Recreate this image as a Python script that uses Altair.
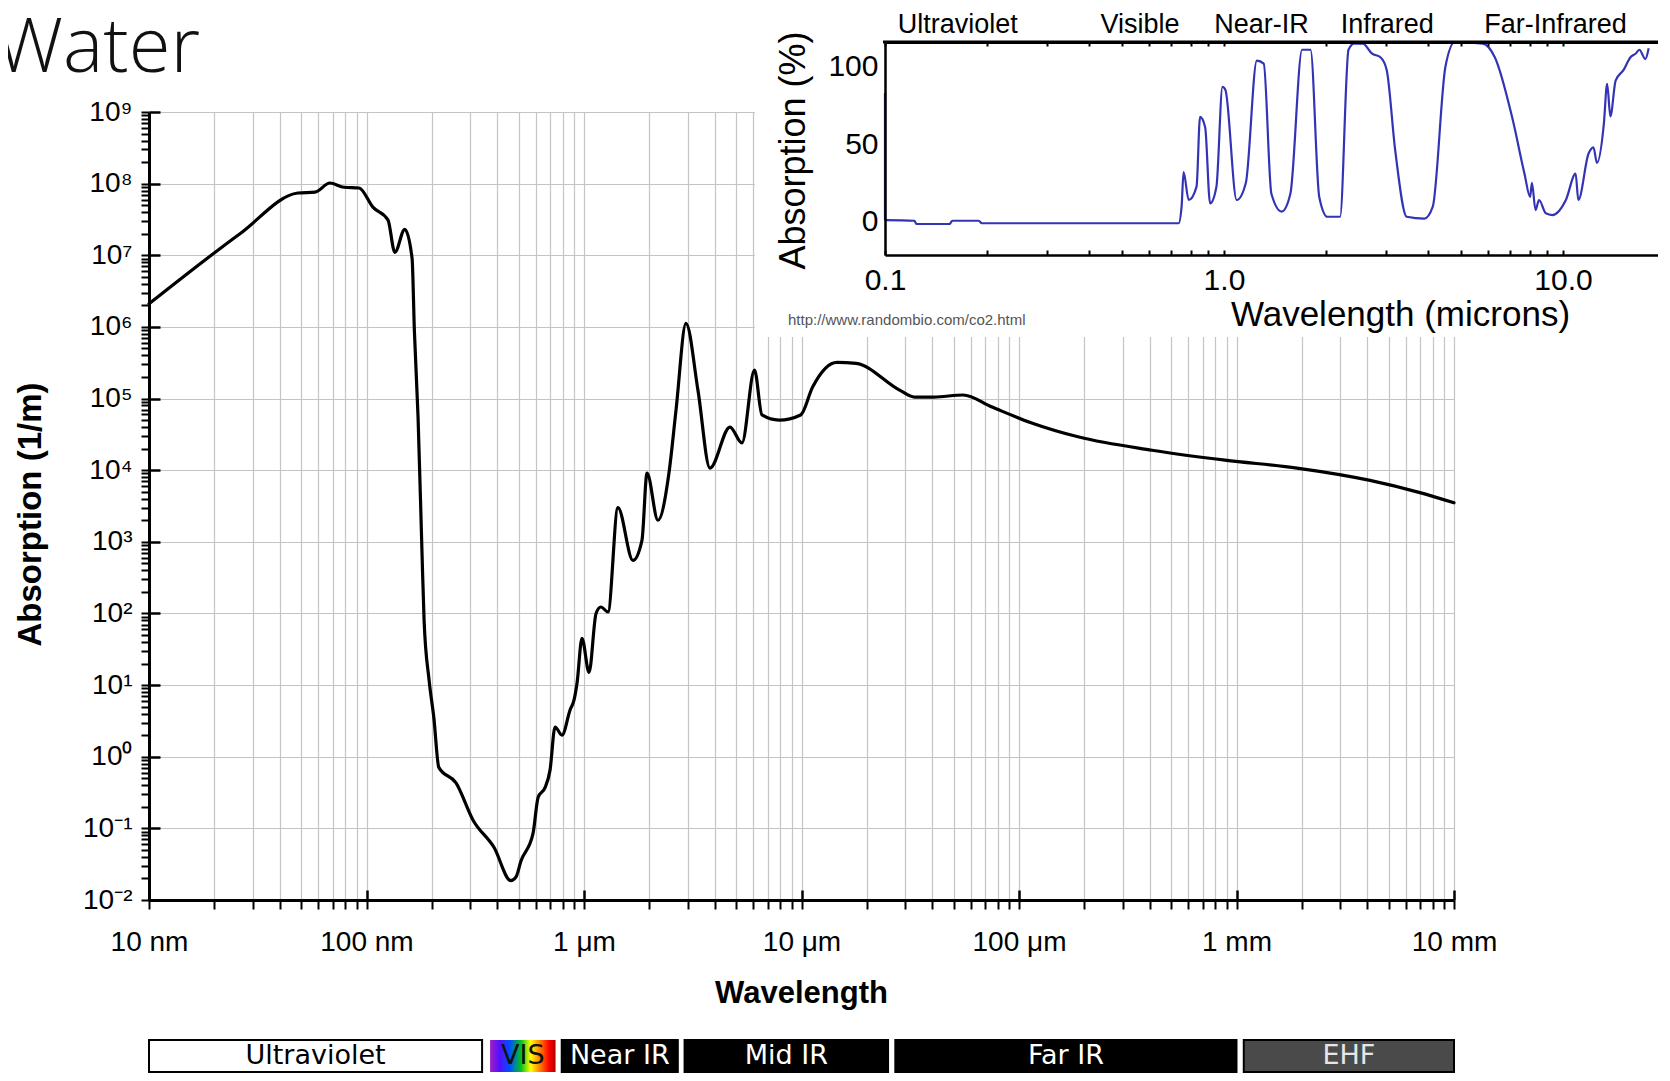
import altair as alt
import pandas as pd

# ---------------- data: main water absorption curve ----------------
wavelength_nm = [10, 26.2, 48.4, 58, 67.9, 78.8, 92.4, 107, 125.6, 135,
                 150, 162, 166, 172.6, 180, 184, 194, 204, 215, 258,
                 309, 386, 461, 487, 513, 583, 615, 662, 698, 736,
                 792, 863, 900, 929, 979, 1055, 1136, 1197, 1289, 1432,
                 1679, 1847, 1949, 2188, 2460, 2649, 2944, 3342, 3794, 4690,
                 5324, 6080, 6580, 7880, 9910, 11250, 14550, 17810, 28380, 33110,
                 40640, 55330, 75160, 113500, 188700, 408500, 885000, 1.897e6, 4.11e6, 6.9e6,
                 1e7]
absorption_per_m = [2.1e6, 2.0e7, 7.4e7, 7.6e7, 1.02e8, 8.9e7, 8.7e7, 4.7e7, 3.1e7, 1.1e7,
                    2.3e7, 9.1e6, 8.9e5, 5.5e4, 690, 79, 11.7, 3.5, 0.71, 0.43,
                    0.13, 0.054, 0.0186, 0.021, 0.035, 0.085, 0.27, 0.37, 0.65, 2.6,
                    2.0, 4.5, 6.2, 10.7, 45, 15, 100, 123, 105, 3000,
                    550, 1050, 9100, 2000, 9300, 6.9e4, 1.12e6, 1.3e5, 1.07e4, 4.0e4,
                    2.4e4, 2.5e5, 5.9e4, 5.0e4, 5.9e4, 1.45e5, 3.2e5, 3.1e5, 1.3e5, 1.05e5,
                    1.05e5, 1.12e5, 7.6e4, 4.6e4, 2.9e4, 1.9e4, 1.38e4, 1.07e4, 7200, 4900,
                    3500]

# ---------------- data: inset (absorption %, microns) ----------------
inset_edge_um = 0.1            # vertical edge at the left of the inset curve
inset_edge_pct = [1, 83]
inset_um = [0.1, 0.122, 0.124, 0.155, 0.158, 0.189, 0.193, 0.735, 0.75,
            0.76, 0.787, 0.83, 0.85, 0.88, 0.91, 0.95, 0.99, 1.01, 1.09,
            1.16, 1.25, 1.31, 1.38, 1.48, 1.57, 1.70, 1.80, 1.91, 2.02,
            2.20, 2.33, 2.42, 2.57, 2.73, 2.90, 3.02, 3.20, 3.46, 3.90,
            4.13, 4.50, 4.80, 5.80, 6.30, 7.07, 7.70, 8.0, 8.1, 8.3,
            8.5, 8.9, 9.3, 10.2, 10.9, 11.1, 11.9, 12.3, 12.6, 13.2,
            13.5, 13.8, 14.3, 15.1, 15.8, 16.4, 16.8, 17.5, 17.9]
inset_pct = [1, 0.6, -1.5, -1.5, 0.6, 0.6, -1, -1, 10,
             32, 14, 22.6, 67.7, 61, 11.8, 22.6, 87, 85, 14,
             25, 104, 102, 18, 6.5, 18, 111, 111, 16, 3.2,
             3.2, 111, 115, 115, 108.6, 106, 98, 46, 3.2, 2,
             9.7, 100, 116, 115, 106, 68, 31, 16, 25, 7.5,
             14, 5.4, 4.3, 14, 31, 14, 44, 48, 38, 63,
             89, 68, 91, 98, 106, 108.6, 111, 105, 112]

inset_band_names = ["Ultraviolet", "Visible", "Near-IR", "Infrared", "Far-Infrared"]
inset_band_center_um = [0.164, 0.565, 1.29, 3.03, 9.5]

# ---------------- spectrum bands under the main chart ----------------
band_names = ["Ultraviolet", "VIS", "Near IR", "Mid IR", "Far IR", "EHF"]
band_start_nm = [10, 370, 790, 2900, 27000, 1.08e6]
band_end_nm = [340, 740, 2700, 25000, 1.0e6, 1e7]

# ---------------- tick labels ----------------
x_tick_values_nm = [10, 100, 1000, 1e4, 1e5, 1e6, 1e7]
x_tick_labels = ["10 nm", "100 nm", "1 μm", "10 μm", "100 μm", "1 mm", "10 mm"]
y_tick_exponents = [-2, -1, 0, 1, 2, 3, 4, 5, 6, 7, 8, 9]
y_tick_labels = ["10⁻²", "10⁻¹", "10⁰", "10¹", "10²", "10³", "10⁴", "10⁵",
                 "10⁶", "10⁷", "10⁸", "10⁹"]
inset_x_tick_values = [0.1, 1, 10]
inset_x_tick_labels = ["0.1", "1.0", "10.0"]
inset_y_tick_values = [0, 50, 100]


def label_expr(values, labels):
    expr = "''"
    for v, l in reversed(list(zip(values, labels))):
        expr = f"abs(datum.value / {v} - 1) < 1e-6 ? '{l}' : {expr}"
    return expr


W, H = 1305, 788
INK = "black"
GRID = "#c4c4c4"
FONT = "Liberation Sans"

x_minor = [k * 10.0 ** e for e in range(1, 7) for k in range(1, 10)] + [1e7]
y_minor = [k * 10.0 ** e for e in range(-2, 9) for k in range(1, 10)] + [1e9]
y_decades = [10.0 ** e for e in y_tick_exponents]
inset_x_minor = [k * 10.0 ** e for e in (-1, 0) for k in range(1, 10)] + [10, 20]
decade_test = "abs(log(datum.value) / LN10 - round(log(datum.value) / LN10)) < 1e-6"

main_df = pd.DataFrame({"nm": wavelength_nm, "A": absorption_per_m,
                        "i": list(range(len(wavelength_nm)))})
xs = alt.Scale(type="log", domain=[10, 1e7], nice=False)
ys = alt.Scale(type="log", domain=[1e-2, 1e9], nice=False)

main_line = alt.Chart(main_df).mark_line(
    color=INK, strokeWidth=3.2, strokeJoin="round", strokeCap="round", interpolate="monotone"
).encode(
    x=alt.X("nm:Q", scale=xs, axis=alt.Axis(
        orient="bottom", values=x_minor, grid=True, gridColor=GRID, gridWidth=1.2,
        tickSize=9, tickWidth=2, tickColor=INK, domainColor=INK, domainWidth=3,
        labelExpr=label_expr(x_tick_values_nm, x_tick_labels), labelFont=FONT,
        labelFontSize=28, labelColor=INK, labelPadding=19, labelFlush=False,
        labelOverlap=False, title="Wavelength", titleFont=FONT, titleFontSize=31,
        titleFontWeight="bold", titleColor=INK, titleX=652, titleY=93,
        titleBaseline="middle", titleAlign="center")),
    y=alt.Y("A:Q", scale=ys, axis=alt.Axis(
        orient="left", values=y_minor, grid=True, gridColor=GRID, gridWidth=1.2,
        gridOpacity={"condition": {"test": decade_test, "value": 1}, "value": 0},
        tickSize=8, tickWidth=2, tickColor=INK, domainColor=INK, domainWidth=3,
        labelExpr=label_expr(y_decades, y_tick_labels), labelFont=FONT,
        labelFontSize=28, labelColor=INK, labelPadding=9, labelOverlap=False,
        labelFlush=False, title="Absorption (1/m)", titleFont=FONT, titleFontSize=33,
        titleFontWeight="bold", titleColor=INK, titleX=-119, titleY=402,
        titleBaseline="middle", titleAlign="center")),
    order="i:Q",
)

cross_ticks = alt.Chart(main_df).mark_line(opacity=0).encode(
    x=alt.X("nm:Q", scale=xs, axis=alt.Axis(
        orient="bottom", offset=-10, values=x_tick_values_nm, tickSize=10, tickWidth=2.5,
        tickColor=INK, domain=False, labels=False, grid=False, title="")),
    y=alt.Y("A:Q", scale=ys, axis=alt.Axis(
        orient="left", offset=-11, values=y_decades, tickSize=11, tickWidth=2.5,
        tickColor=INK, domain=False, labels=False, grid=False, title="")),
)

band_df = pd.DataFrame({"name": band_names, "start": band_start_nm, "end": band_end_nm})
solid_df = band_df[band_df["name"] != "VIS"]
vis_df = band_df[band_df["name"] == "VIS"]

BOX_Y, BOX_Y2 = 928, 960
boxes = alt.Chart(solid_df).mark_rect(stroke=INK, strokeWidth=2).encode(
    x=alt.X("start:Q", scale=xs, axis=None), x2="end:Q",
    y=alt.value(BOX_Y), y2=alt.value(BOX_Y2),
    fill=alt.Fill("name:N", scale=alt.Scale(
        domain=["Ultraviolet", "Near IR", "Mid IR", "Far IR", "EHF"],
        range=["white", "black", "black", "black", "#4a4a4a"]), legend=None),
)
rainbow = alt.LinearGradient(
    gradient="linear", x1=0, x2=1, y1=0, y2=0,
    stops=[alt.GradientStop(color="#a020c0", offset=0),
           alt.GradientStop(color="#5010ff", offset=0.15),
           alt.GradientStop(color="#0050ff", offset=0.3),
           alt.GradientStop(color="#00c020", offset=0.47),
           alt.GradientStop(color="#ffff00", offset=0.62),
           alt.GradientStop(color="#ff8000", offset=0.76),
           alt.GradientStop(color="#ff0000", offset=0.9),
           alt.GradientStop(color="#b00000", offset=1)])
vis_box = alt.Chart(vis_df).mark_rect(fill=rainbow).encode(
    x=alt.X("start:Q", scale=xs, axis=None), x2="end:Q",
    y=alt.value(BOX_Y), y2=alt.value(BOX_Y2),
)
box_text = alt.Chart(band_df).transform_calculate(
    mid="sqrt(datum.start * datum.end)"
).mark_text(font="DejaVu Sans", fontSize=27, baseline="middle").encode(
    x=alt.X("mid:Q", scale=xs, axis=None),
    y=alt.value((BOX_Y + BOX_Y2) / 2),
    text="name:N",
    color=alt.Color("name:N", scale=alt.Scale(
        domain=band_names,
        range=["black", "#111111", "white", "white", "white", "#e6e6e6"]), legend=None),
)

main_group = alt.layer(main_line, cross_ticks, boxes, vis_box, box_text).resolve_axis(
    x="independent", y="independent")

# ---------------- inset ----------------
inset_df = pd.DataFrame({"um": inset_um, "pct": inset_pct, "i": list(range(len(inset_um)))})
edge_df = pd.DataFrame({"um": [inset_edge_um], "lo": [inset_edge_pct[0]], "hi": [inset_edge_pct[1]]})
xi = alt.Scale(type="log", domain=[0.1, 20], range=[736, 1516], nice=False)
yi = alt.Scale(type="linear", domain=[-21.5, 116], range=[143, -70], nice=False, zero=False)
one = pd.DataFrame({"k": [0]})
BLUE = "#3333b5"

inset_bg = alt.Chart(one).mark_rect(fill="white").encode(
    x=alt.value(606), x2=alt.value(1530), y=alt.value(-112), y2=alt.value(225))

# bottom axis of the inset: ticks point inward (up), labels below
inset_line = alt.Chart(inset_df).mark_line(color=BLUE, strokeWidth=2.2,
                                           interpolate="monotone").encode(
    x=alt.X("um:Q", scale=xi, axis=alt.Axis(
        orient="top", offset=-143, values=inset_x_minor, tickSize=5, tickWidth=2,
        tickColor=INK, domainColor=INK, domainWidth=2.5, grid=False,
        labelExpr=label_expr(inset_x_tick_values, inset_x_tick_labels), labelFont=FONT,
        labelFontSize=30, labelColor=INK, labelBaseline="top", labelPadding=-15,
        labelFlush=False, labelOverlap=False, title="Wavelength (microns)", titleFont=FONT,
        titleFontSize=35, titleFontWeight="normal", titleColor=INK, titleX=1251,
        titleY=59, titleBaseline="middle", titleAlign="center", zindex=1)),
    y=alt.Y("pct:Q", scale=yi, axis=alt.Axis(
        orient="left", offset=-736, values=inset_y_tick_values, ticks=False, tickSize=0,
        domainColor=INK, domainWidth=2.5, grid=False, labelFont=FONT, labelFontSize=30,
        labelColor=INK, labelPadding=7, title="Absorption (%)", titleFont=FONT,
        titleFontSize=36, titleFontWeight="normal", titleColor=INK, titleX=-92,
        titleY=38, titleBaseline="middle", titleAlign="center", zindex=1)),
    order="i:Q",
)

# top frame of the inset with small inward ticks
inset_top_axis = alt.Chart(inset_df).mark_line(opacity=0).encode(
    x=alt.X("um:Q", scale=xi, axis=alt.Axis(
        orient="bottom", offset=-858, values=inset_x_minor, tickSize=4, tickWidth=2,
        tickColor=INK, domainColor=INK, domainWidth=3, labels=False, grid=False,
        title="", zindex=1)),
    y=alt.Y("pct:Q", scale=yi, axis=None),
)

inset_edge = alt.Chart(edge_df).mark_rule(color=BLUE, strokeWidth=2.2).encode(
    x=alt.X("um:Q", scale=xi, axis=None),
    y=alt.Y("lo:Q", scale=yi, axis=None), y2="hi:Q")

inset_top = alt.Chart(one).mark_rule(color=INK, strokeWidth=3).encode(
    x=alt.value(734), x2=alt.value(1530), y=alt.value(-70))

inset_labels = alt.Chart(pd.DataFrame({"name": inset_band_names, "um": inset_band_center_um})
                         ).mark_text(font=FONT, fontSize=27, color=INK, baseline="middle").encode(
    x=alt.X("um:Q", scale=xi, axis=None), y=alt.value(-87), text="name:N")

inset_url = alt.Chart(one).mark_text(font=FONT, fontSize=15, color="#555555", align="left",
                                     baseline="middle").encode(
    x=alt.value(639), y=alt.value(208), text=alt.value("http://www.randombio.com/co2.html"))

inset_group = alt.layer(inset_bg, inset_line, inset_top_axis, inset_edge, inset_top,
                        inset_labels, inset_url).resolve_axis(x="independent", y="independent")

water = alt.Chart(one).mark_text(font="Open Sans", fontSize=76, fontWeight=300, align="right",
                                 baseline="alphabetic", color="#111111").encode(
    x=alt.value(51), y=alt.value(-40), text=alt.value("Water"))

chart = alt.layer(main_group, inset_group, water).resolve_scale(
    x="independent", y="independent"
).properties(
    width=W, height=H,
    autosize=alt.AutoSizeParams(type="none"),
    padding={"left": 141, "top": 104, "right": 204, "bottom": 173},
    background="white",
).configure_view(strokeWidth=0)

chart.save("out.html", embed_options={"renderer": "svg", "actions": False})
